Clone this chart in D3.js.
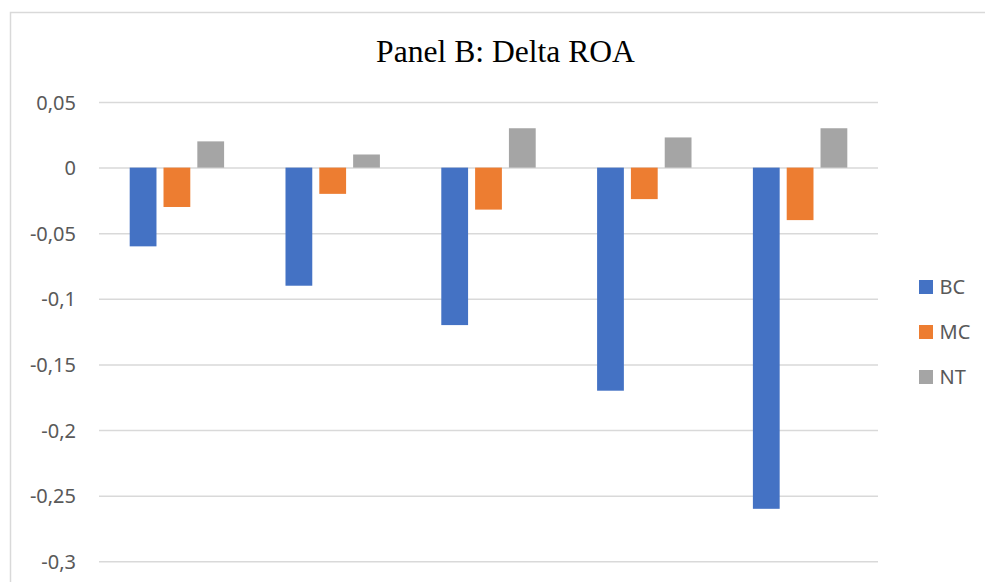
<!DOCTYPE html>
<html>
<head>
<meta charset="utf-8">
<script src="https://cdn.jsdelivr.net/npm/d3@7"></script>
<style>
  html, body { margin: 0; padding: 0; background: #fff; }
  svg { display: block; }
</style>
</head>
<body>
<svg id="chart" width="985" height="582"></svg>
<script>
// Groups along the x axis (no labels are shown for them)
const categories = ["1", "2", "3", "4", "5"];
// Series names, in legend order
const seriesNames = ["BC", "MC", "NT"];
// Delta ROA per group, one array per series
const bcValues = [-0.06, -0.09, -0.12, -0.17, -0.26];
const mcValues = [-0.03, -0.02, -0.032, -0.024, -0.04];
const ntValues = [0.02, 0.01, 0.03, 0.023, 0.03];
// Value axis ticks
const yTicks = [0.05, 0, -0.05, -0.1, -0.15, -0.2, -0.25, -0.3];
const titleText = "Panel B: Delta ROA";

const seriesValues = { BC: bcValues, MC: mcValues, NT: ntValues };
const colors = { BC: "#4472C4", MC: "#ED7D31", NT: "#A5A5A5" };

const svg = d3.select("#chart");
const W = 985, H = 582;
const plot = { left: 99, right: 878, top: 102, bottom: 561.3 };

// Outer frame (left and top edges visible)
svg.append("path")
  .attr("d", `M10.5,${H} L10.5,12.5 L${W},12.5`)
  .attr("fill", "none")
  .attr("stroke", "#D9D9D9")
  .attr("stroke-width", 1.5);

// Title
svg.append("text")
  .attr("x", 505.5)
  .attr("y", 62)
  .attr("text-anchor", "middle")
  .attr("font-family", "'Liberation Serif', 'Times New Roman', serif")
  .attr("font-size", 31.6)
  .attr("fill", "#000")
  .text(titleText);

const y = d3.scaleLinear()
  .domain([d3.min(yTicks), d3.max(yTicks)])
  .range([plot.bottom, plot.top]);

const x0 = d3.scaleBand()
  .domain(categories)
  .range([plot.left, plot.right])
  .padding(0);

const inset = x0.bandwidth() * 0.197;
const x1 = d3.scaleBand()
  .domain(seriesNames)
  .range([inset, x0.bandwidth() - inset])
  .paddingInner(0.208)
  .paddingOuter(0);

const locale = d3.formatLocale({
  decimal: ",", thousands: ".", grouping: [3], currency: ["", ""], minus: "-"
});
const fmt = locale.format(".2~f");

// Gridlines and tick labels via the axis generator
const yAxis = d3.axisLeft(y)
  .tickValues(yTicks)
  .tickSize(-(plot.right - plot.left))
  .tickPadding(23)
  .tickFormat(fmt);

const gAxis = svg.append("g")
  .attr("transform", `translate(${plot.left},0)`)
  .call(yAxis);
gAxis.select(".domain").remove();
gAxis.selectAll(".tick line")
  .attr("stroke", "#D9D9D9")
  .attr("stroke-width", 1.5);
gAxis.selectAll(".tick text")
  .attr("fill", "#595959")
  .attr("font-family", "'Noto Sans', 'Open Sans', sans-serif")
  .attr("font-size", 20)
  .attr("dy", "0.35em");

// Bars
const rows = categories.map((c, i) => ({
  cat: c,
  vals: seriesNames.map(s => ({ key: s, value: seriesValues[s][i] }))
}));

svg.append("g")
  .selectAll("g")
  .data(rows)
  .join("g")
  .attr("transform", d => `translate(${x0(d.cat)},0)`)
  .selectAll("rect")
  .data(d => d.vals)
  .join("rect")
  .attr("x", d => x1(d.key))
  .attr("width", x1.bandwidth())
  .attr("y", d => y(Math.max(0, d.value)))
  .attr("height", d => Math.abs(y(d.value) - y(0)))
  .attr("fill", d => colors[d.key]);

// Legend
const legend = svg.append("g")
  .selectAll("g")
  .data(seriesNames)
  .join("g")
  .attr("transform", (d, i) => `translate(919,${287 + i * 45})`);
legend.append("rect")
  .attr("x", 0)
  .attr("y", -7)
  .attr("width", 14)
  .attr("height", 14)
  .attr("fill", d => colors[d]);
legend.append("text")
  .attr("x", 20.5)
  .attr("y", 0)
  .attr("dy", "0.35em")
  .attr("fill", "#595959")
  .attr("font-family", "'Noto Sans', 'Open Sans', sans-serif")
  .attr("font-size", 20)
  .text(d => d);
</script>
</body>
</html>
